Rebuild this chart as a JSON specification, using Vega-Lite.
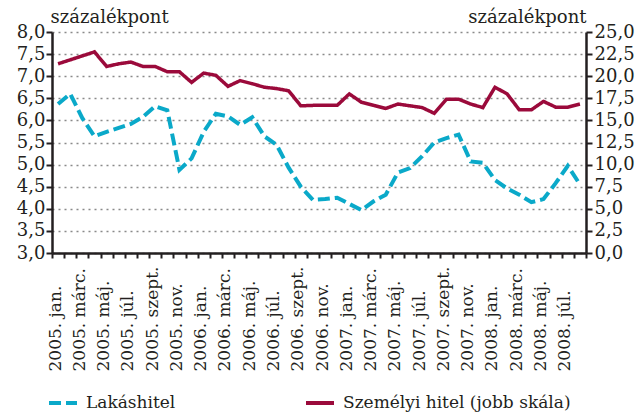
{
  "$schema": "https://vega.github.io/schema/vega-lite/v6.json",
  "width": 534,
  "height": 221,
  "autosize": {"type": "none"},
  "padding": {"left": 52, "top": 32, "right": 52, "bottom": 160},
  "background": "white",
  "config": {
    "view": {"stroke": null},
    "font": "DejaVu Serif",
    "axis": {
      "labelFont": "DejaVu Serif",
      "labelFontSize": 18,
      "labelColor": "#231f20",
      "titleFont": "DejaVu Serif",
      "titleFontSize": 18,
      "titleFontWeight": "normal",
      "titleColor": "#231f20",
      "domainColor": "#231f20",
      "tickColor": "#231f20"
    },
    "legend": {
      "labelFont": "DejaVu Serif",
      "labelFontSize": 17,
      "labelColor": "#231f20",
      "labelLimit": 320
    }
  },
  "data": {
    "values": [
      {"honap": "2005. jan.", "sorozat": "Lakáshitel", "ertek": 6.37},
      {"honap": "2005. febr.", "sorozat": "Lakáshitel", "ertek": 6.6},
      {"honap": "2005. márc.", "sorozat": "Lakáshitel", "ertek": 6.05},
      {"honap": "2005. ápr.", "sorozat": "Lakáshitel", "ertek": 5.64},
      {"honap": "2005. máj.", "sorozat": "Lakáshitel", "ertek": 5.74},
      {"honap": "2005. jún.", "sorozat": "Lakáshitel", "ertek": 5.83},
      {"honap": "2005. júl.", "sorozat": "Lakáshitel", "ertek": 5.92},
      {"honap": "2005. aug.", "sorozat": "Lakáshitel", "ertek": 6.08},
      {"honap": "2005. szept.", "sorozat": "Lakáshitel", "ertek": 6.32},
      {"honap": "2005. okt.", "sorozat": "Lakáshitel", "ertek": 6.23},
      {"honap": "2005. nov.", "sorozat": "Lakáshitel", "ertek": 4.88},
      {"honap": "2005. dec.", "sorozat": "Lakáshitel", "ertek": 5.14},
      {"honap": "2006. jan.", "sorozat": "Lakáshitel", "ertek": 5.74},
      {"honap": "2006. febr.", "sorozat": "Lakáshitel", "ertek": 6.15},
      {"honap": "2006. márc.", "sorozat": "Lakáshitel", "ertek": 6.09},
      {"honap": "2006. ápr.", "sorozat": "Lakáshitel", "ertek": 5.9},
      {"honap": "2006. máj.", "sorozat": "Lakáshitel", "ertek": 6.07},
      {"honap": "2006. jún.", "sorozat": "Lakáshitel", "ertek": 5.64},
      {"honap": "2006. júl.", "sorozat": "Lakáshitel", "ertek": 5.45},
      {"honap": "2006. aug.", "sorozat": "Lakáshitel", "ertek": 4.93},
      {"honap": "2006. szept.", "sorozat": "Lakáshitel", "ertek": 4.5},
      {"honap": "2006. okt.", "sorozat": "Lakáshitel", "ertek": 4.2},
      {"honap": "2006. nov.", "sorozat": "Lakáshitel", "ertek": 4.22},
      {"honap": "2006. dec.", "sorozat": "Lakáshitel", "ertek": 4.25},
      {"honap": "2007. jan.", "sorozat": "Lakáshitel", "ertek": 4.11},
      {"honap": "2007. febr.", "sorozat": "Lakáshitel", "ertek": 3.97},
      {"honap": "2007. márc.", "sorozat": "Lakáshitel", "ertek": 4.17},
      {"honap": "2007. ápr.", "sorozat": "Lakáshitel", "ertek": 4.32},
      {"honap": "2007. máj.", "sorozat": "Lakáshitel", "ertek": 4.82},
      {"honap": "2007. jún.", "sorozat": "Lakáshitel", "ertek": 4.92},
      {"honap": "2007. júl.", "sorozat": "Lakáshitel", "ertek": 5.19},
      {"honap": "2007. aug.", "sorozat": "Lakáshitel", "ertek": 5.5},
      {"honap": "2007. szept.", "sorozat": "Lakáshitel", "ertek": 5.6},
      {"honap": "2007. okt.", "sorozat": "Lakáshitel", "ertek": 5.68},
      {"honap": "2007. nov.", "sorozat": "Lakáshitel", "ertek": 5.07},
      {"honap": "2007. dec.", "sorozat": "Lakáshitel", "ertek": 5.04},
      {"honap": "2008. jan.", "sorozat": "Lakáshitel", "ertek": 4.65},
      {"honap": "2008. febr.", "sorozat": "Lakáshitel", "ertek": 4.46},
      {"honap": "2008. márc.", "sorozat": "Lakáshitel", "ertek": 4.32},
      {"honap": "2008. ápr.", "sorozat": "Lakáshitel", "ertek": 4.15},
      {"honap": "2008. máj.", "sorozat": "Lakáshitel", "ertek": 4.22},
      {"honap": "2008. jún.", "sorozat": "Lakáshitel", "ertek": 4.58},
      {"honap": "2008. júl.", "sorozat": "Lakáshitel", "ertek": 4.97},
      {"honap": "2008. aug.", "sorozat": "Lakáshitel", "ertek": 4.55},
      {"honap": "2005. jan.", "sorozat": "Személyi hitel (jobb skála)", "ertek": 21.4},
      {"honap": "2005. febr.", "sorozat": "Személyi hitel (jobb skála)", "ertek": 21.85},
      {"honap": "2005. márc.", "sorozat": "Személyi hitel (jobb skála)", "ertek": 22.3},
      {"honap": "2005. ápr.", "sorozat": "Személyi hitel (jobb skála)", "ertek": 22.75},
      {"honap": "2005. máj.", "sorozat": "Személyi hitel (jobb skála)", "ertek": 21.1},
      {"honap": "2005. jún.", "sorozat": "Személyi hitel (jobb skála)", "ertek": 21.4},
      {"honap": "2005. júl.", "sorozat": "Személyi hitel (jobb skála)", "ertek": 21.6},
      {"honap": "2005. aug.", "sorozat": "Személyi hitel (jobb skála)", "ertek": 21.1},
      {"honap": "2005. szept.", "sorozat": "Személyi hitel (jobb skála)", "ertek": 21.1},
      {"honap": "2005. okt.", "sorozat": "Személyi hitel (jobb skála)", "ertek": 20.5},
      {"honap": "2005. nov.", "sorozat": "Személyi hitel (jobb skála)", "ertek": 20.5},
      {"honap": "2005. dec.", "sorozat": "Személyi hitel (jobb skála)", "ertek": 19.3},
      {"honap": "2006. jan.", "sorozat": "Személyi hitel (jobb skála)", "ertek": 20.35},
      {"honap": "2006. febr.", "sorozat": "Személyi hitel (jobb skála)", "ertek": 20.1},
      {"honap": "2006. márc.", "sorozat": "Személyi hitel (jobb skála)", "ertek": 18.85},
      {"honap": "2006. ápr.", "sorozat": "Személyi hitel (jobb skála)", "ertek": 19.5},
      {"honap": "2006. máj.", "sorozat": "Személyi hitel (jobb skála)", "ertek": 19.15},
      {"honap": "2006. jún.", "sorozat": "Személyi hitel (jobb skála)", "ertek": 18.75},
      {"honap": "2006. júl.", "sorozat": "Személyi hitel (jobb skála)", "ertek": 18.6},
      {"honap": "2006. aug.", "sorozat": "Személyi hitel (jobb skála)", "ertek": 18.35},
      {"honap": "2006. szept.", "sorozat": "Személyi hitel (jobb skála)", "ertek": 16.65},
      {"honap": "2006. okt.", "sorozat": "Személyi hitel (jobb skála)", "ertek": 16.7},
      {"honap": "2006. nov.", "sorozat": "Személyi hitel (jobb skála)", "ertek": 16.7},
      {"honap": "2006. dec.", "sorozat": "Személyi hitel (jobb skála)", "ertek": 16.7},
      {"honap": "2007. jan.", "sorozat": "Személyi hitel (jobb skála)", "ertek": 18.0},
      {"honap": "2007. febr.", "sorozat": "Személyi hitel (jobb skála)", "ertek": 17.05},
      {"honap": "2007. márc.", "sorozat": "Személyi hitel (jobb skála)", "ertek": 16.7},
      {"honap": "2007. ápr.", "sorozat": "Személyi hitel (jobb skála)", "ertek": 16.35},
      {"honap": "2007. máj.", "sorozat": "Személyi hitel (jobb skála)", "ertek": 16.85},
      {"honap": "2007. jún.", "sorozat": "Személyi hitel (jobb skála)", "ertek": 16.65},
      {"honap": "2007. júl.", "sorozat": "Személyi hitel (jobb skála)", "ertek": 16.45},
      {"honap": "2007. aug.", "sorozat": "Személyi hitel (jobb skála)", "ertek": 15.8},
      {"honap": "2007. szept.", "sorozat": "Személyi hitel (jobb skála)", "ertek": 17.4},
      {"honap": "2007. okt.", "sorozat": "Személyi hitel (jobb skála)", "ertek": 17.4},
      {"honap": "2007. nov.", "sorozat": "Személyi hitel (jobb skála)", "ertek": 16.85},
      {"honap": "2007. dec.", "sorozat": "Személyi hitel (jobb skála)", "ertek": 16.45},
      {"honap": "2008. jan.", "sorozat": "Személyi hitel (jobb skála)", "ertek": 18.75},
      {"honap": "2008. febr.", "sorozat": "Személyi hitel (jobb skála)", "ertek": 18.0},
      {"honap": "2008. márc.", "sorozat": "Személyi hitel (jobb skála)", "ertek": 16.2},
      {"honap": "2008. ápr.", "sorozat": "Személyi hitel (jobb skála)", "ertek": 16.2},
      {"honap": "2008. máj.", "sorozat": "Személyi hitel (jobb skála)", "ertek": 17.15},
      {"honap": "2008. jún.", "sorozat": "Személyi hitel (jobb skála)", "ertek": 16.5},
      {"honap": "2008. júl.", "sorozat": "Személyi hitel (jobb skála)", "ertek": 16.5},
      {"honap": "2008. aug.", "sorozat": "Személyi hitel (jobb skála)", "ertek": 16.85}
    ]
  },
  "encoding": {
    "x": {
      "field": "honap",
      "type": "ordinal",
      "sort": null,
      "bandPosition": 0.5,
      "scale": {"type": "band", "paddingInner": 0, "paddingOuter": 0},
      "axis": {
        "title": null,
        "tickBand": "extent",
        "domainWidth": 2.5,
        "tickSize": 5,
        "tickWidth": 2,
        "labelFontSize": 17,
        "labelAngle": -90,
        "labelAlign": "left",
        "labelBaseline": "middle",
        "labelPadding": 113,
        "labelOffset": -3,
        "labelOverlap": false,
        "labelExpr": "indexof(['jan.', 'márc.', 'máj.', 'júl.', 'szept.', 'nov.'], split(datum.label, ' ')[1]) >= 0 ? datum.label : ''"
      }
    },
    "color": {
      "field": "sorozat",
      "type": "nominal",
      "scale": {
        "domain": ["Lakáshitel", "Személyi hitel (jobb skála)"],
        "range": ["#0aa9c9", "#9b0a3b"]
      },
      "legend": {
        "title": null,
        "orient": "none",
        "legendX": -5,
        "legendY": 355,
        "direction": "horizontal",
        "padding": 0,
        "columnPadding": 122,
        "symbolType": "stroke",
        "symbolSize": 784,
        "symbolStrokeWidth": 4,
        "labelOffset": 7
      }
    },
    "strokeDash": {
      "field": "sorozat",
      "type": "nominal",
      "scale": {
        "domain": ["Lakáshitel", "Személyi hitel (jobb skála)"],
        "range": [[12, 5], [1, 0]]
      },
      "legend": {
        "title": null,
        "orient": "none",
        "legendX": -5,
        "legendY": 355,
        "direction": "horizontal",
        "padding": 0,
        "columnPadding": 122,
        "symbolType": "stroke",
        "symbolSize": 784,
        "symbolStrokeWidth": 4,
        "labelOffset": 7
      }
    }
  },
  "layer": [
    {
      "transform": [{"filter": "datum.sorozat === 'Lakáshitel'"}],
      "mark": {"type": "line", "strokeWidth": 4, "strokeCap": "butt"},
      "encoding": {
        "y": {
          "field": "ertek",
          "type": "quantitative",
          "scale": {"domain": [3, 8], "nice": false, "zero": false},
          "axis": {
            "orient": "left",
            "values": [3, 3.5, 4, 4.5, 5, 5.5, 6, 6.5, 7, 7.5, 8],
            "labelExpr": "replace(format(datum.value, '.1f'), '.', ',')",
            "grid": true,
            "gridColor": "#8a8a8a",
            "gridDash": [2, 4],
            "gridWidth": 1.5,
            "domainWidth": 2.5,
            "tickSize": 6,
            "tickWidth": 2,
            "labelPadding": 1,
            "title": "százalékpont",
            "titleAngle": 0,
            "titleAlign": "left",
            "titleBaseline": "alphabetic",
            "titleX": -2,
            "titleY": -10
          }
        }
      }
    },
    {
      "transform": [{"filter": "datum.sorozat === 'Személyi hitel (jobb skála)'"}],
      "mark": {"type": "line", "strokeWidth": 3.5},
      "encoding": {
        "y": {
          "field": "ertek",
          "type": "quantitative",
          "scale": {"domain": [0, 25], "nice": false, "zero": false},
          "axis": {
            "orient": "right",
            "values": [0, 2.5, 5, 7.5, 10, 12.5, 15, 17.5, 20, 22.5, 25],
            "labelExpr": "replace(format(datum.value, '.1f'), '.', ',')",
            "grid": false,
            "domainWidth": 2.5,
            "tickSize": 6,
            "tickWidth": 2,
            "labelPadding": 2,
            "title": "százalékpont",
            "titleAngle": 0,
            "titleAlign": "right",
            "titleBaseline": "alphabetic",
            "titleX": 0,
            "titleY": -10
          }
        }
      }
    }
  ],
  "resolve": {"scale": {"y": "independent"}}
}
